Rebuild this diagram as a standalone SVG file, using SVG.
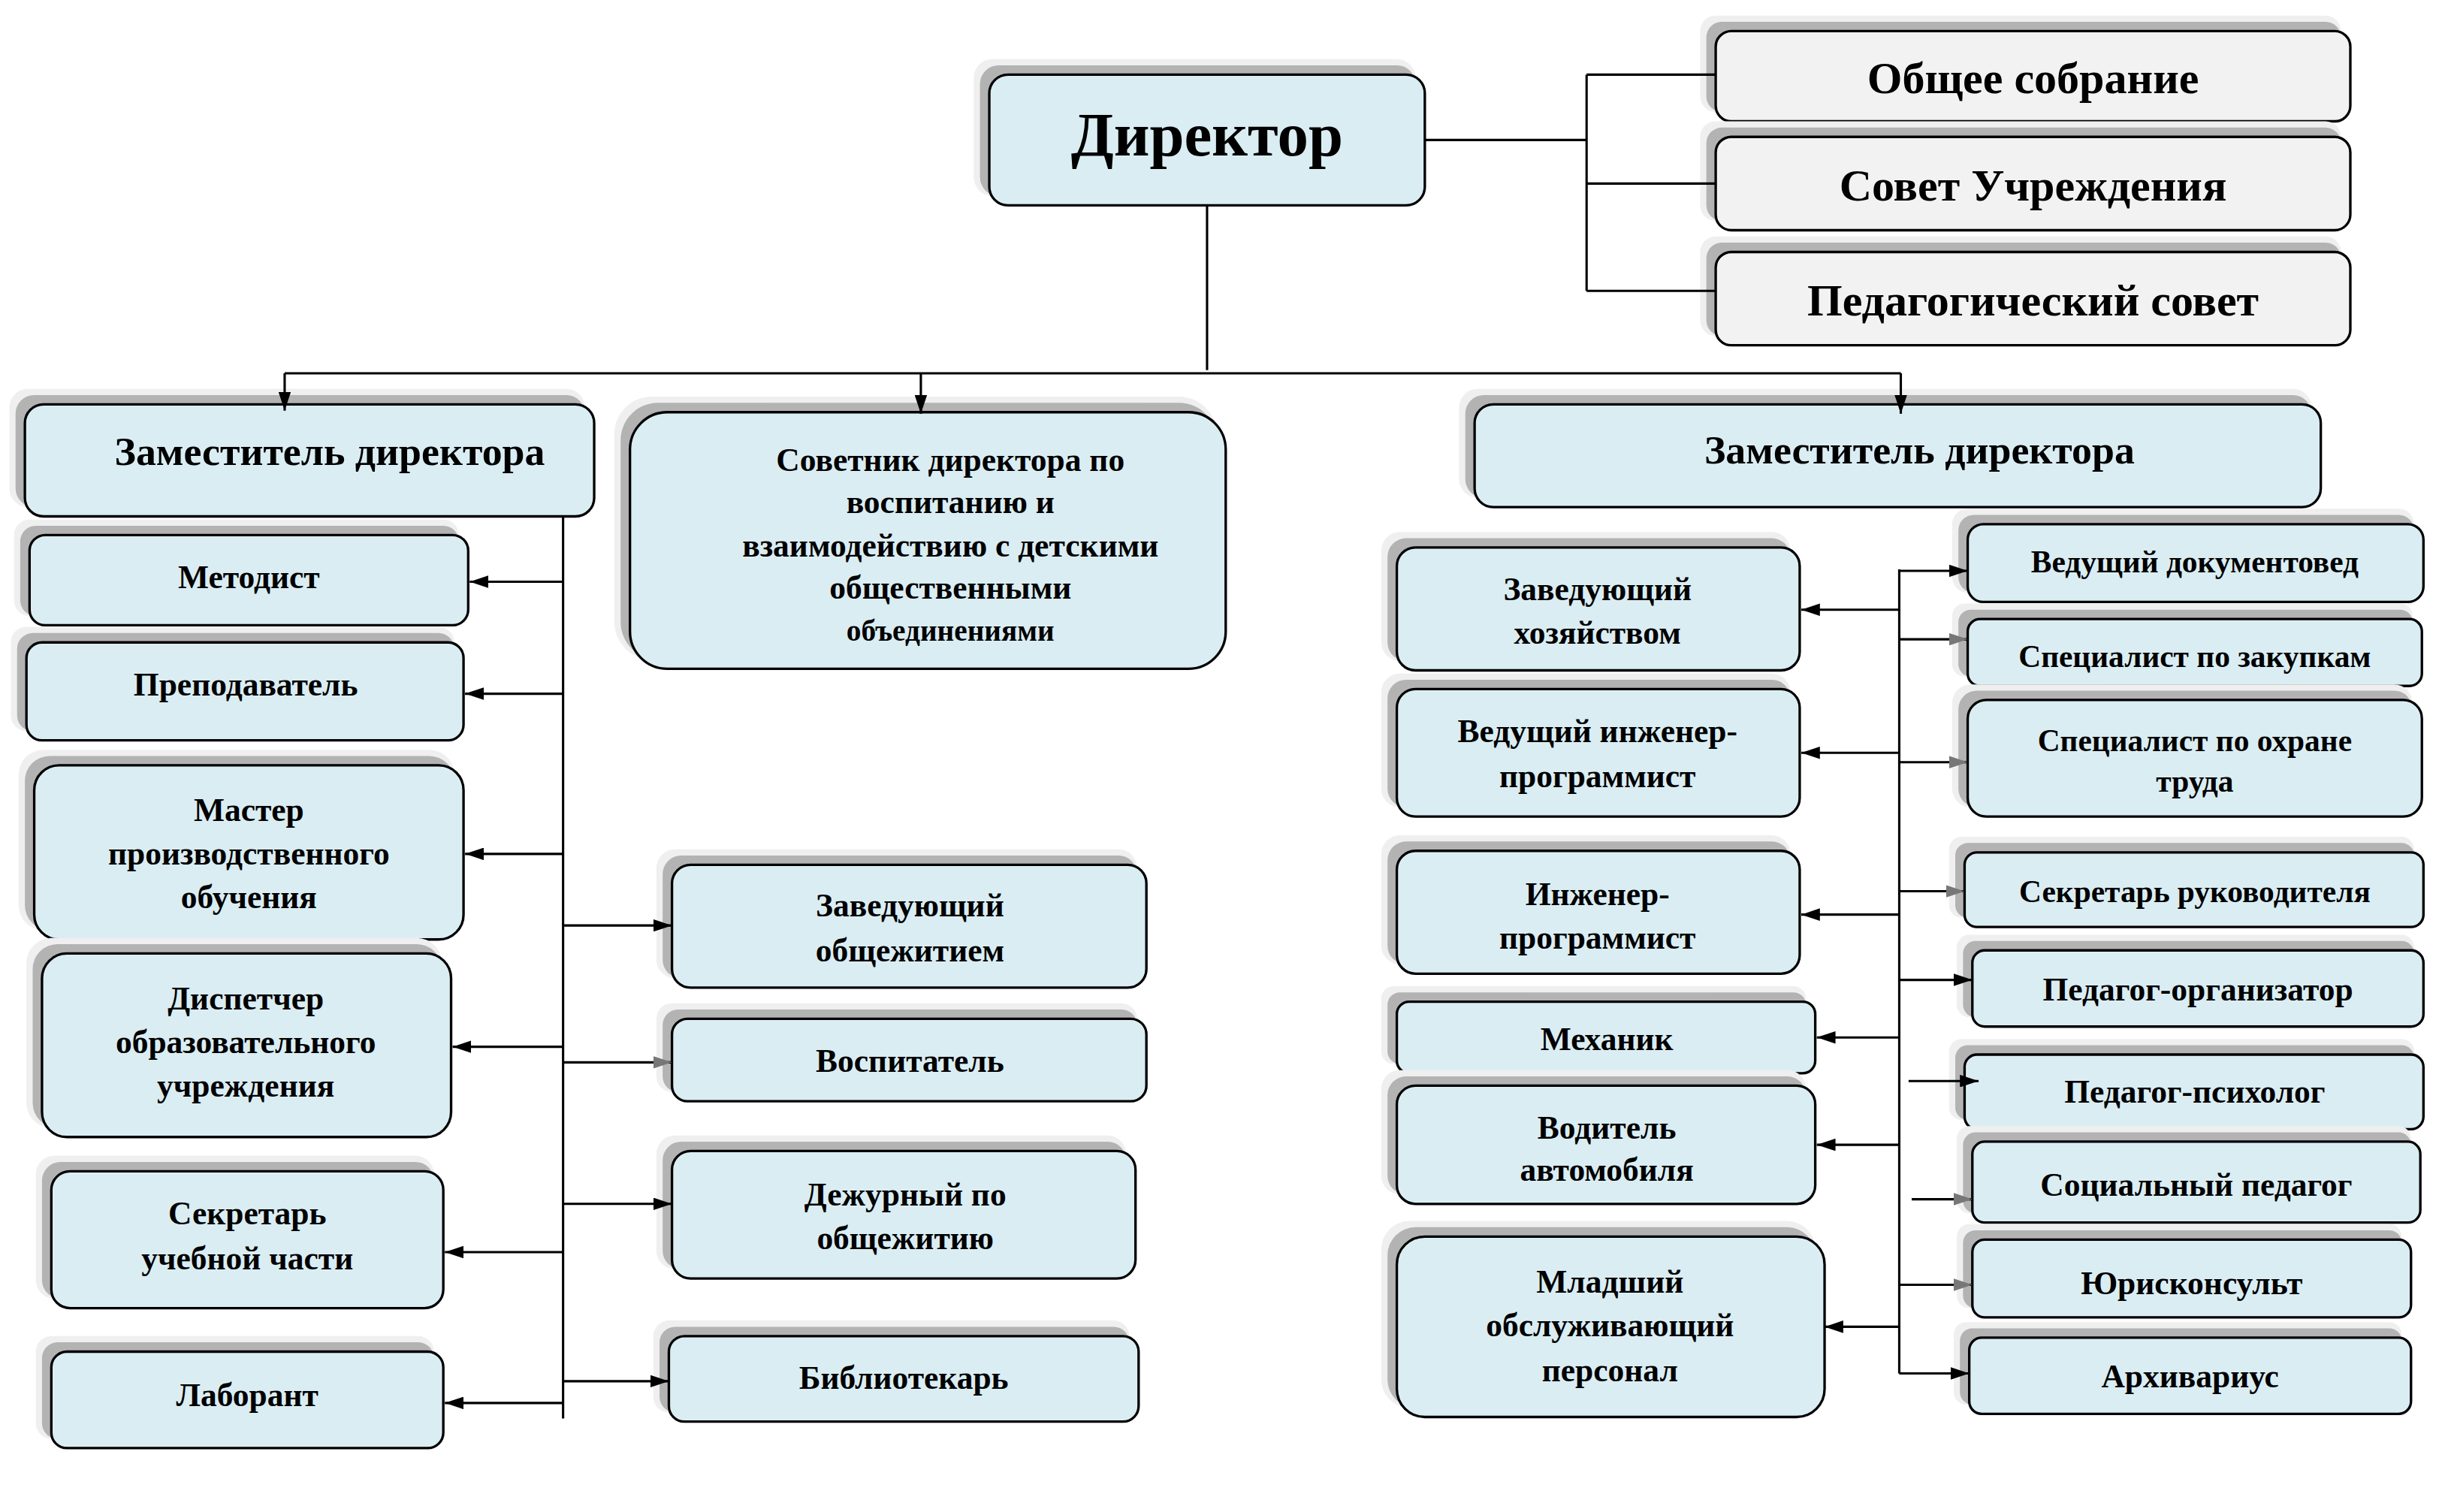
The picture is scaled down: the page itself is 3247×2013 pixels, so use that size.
<svg xmlns="http://www.w3.org/2000/svg" width="3247" height="2013" viewBox="0 0 3247 2013">
<defs>
<style>
.b{fill:#daedf3;stroke:#000;stroke-width:1.6}
.g{fill:#f2f2f2;stroke:#000;stroke-width:1.6}
.s1{fill:#efefef}
.s2{fill:#b3b3b3}
text{font-family:"Liberation Serif","Times New Roman",serif;font-weight:bold;text-anchor:middle;fill:#000}
.t{font-size:21px}
.l{stroke:#000;stroke-width:1.5;fill:none}
</style>
<marker id="a" viewBox="0 0 12 8" refX="12" refY="4" markerWidth="12" markerHeight="8" markerUnits="userSpaceOnUse" orient="auto"><path d="M0,0L12,4L0,8Z" fill="#000"/></marker>
<marker id="ag" viewBox="0 0 12 8" refX="12" refY="4" markerWidth="12" markerHeight="8" markerUnits="userSpaceOnUse" orient="auto"><path d="M0,0L12,4L0,8Z" fill="#777"/></marker>
</defs>
<rect width="3247" height="2013" fill="#fff"/>
<g transform="scale(2.0708)">
<g id="nodes">
<g id="director"><rect class="s1" x="626" y="38" width="284" height="88" rx="12"/><rect class="s2" x="630" y="42" width="280" height="84" rx="12"/><rect class="b" x="636" y="48" width="280" height="84" rx="12"/><text x="776" y="100" style="font-size:40px">Директор</text></g>
<g id="obshee"><rect class="s1" x="1093" y="10" width="412" height="62" rx="10"/><rect class="s2" x="1097" y="14" width="408" height="58" rx="10"/><rect class="g" x="1103" y="20" width="408" height="58" rx="10"/><text x="1307" y="60" style="font-size:29px">Общее собрание</text></g>
<g id="sovet"><rect class="s1" x="1093" y="78" width="412" height="64" rx="10"/><rect class="s2" x="1097" y="82" width="408" height="60" rx="10"/><rect class="g" x="1103" y="88" width="408" height="60" rx="10"/><text x="1307" y="129" style="font-size:29px">Совет Учреждения</text></g>
<g id="pedsovet"><rect class="s1" x="1093" y="152" width="412" height="64" rx="10"/><rect class="s2" x="1097" y="156" width="408" height="60" rx="10"/><rect class="g" x="1103" y="162" width="408" height="60" rx="10"/><text x="1307" y="203" style="font-size:29px">Педагогический совет</text></g>

<g id="zam1"><rect class="s1" x="6" y="250" width="370" height="76" rx="12"/><rect class="s2" x="10" y="254" width="366" height="72" rx="12"/><rect class="b" x="16" y="260" width="366" height="72" rx="12"/><text x="212" y="299" style="font-size:26px">Заместитель директора</text></g>
<g id="sovetnik"><rect class="s1" x="395" y="255" width="387" height="169" rx="24"/><rect class="s2" x="399" y="259" width="383" height="165" rx="24"/><rect class="b" x="405" y="265" width="383" height="165" rx="24"/><text class="t" x="611" y="303">Советник директора по</text><text class="t" x="611" y="330">воспитанию и</text><text class="t" x="611" y="358">взаимодействию с детскими</text><text class="t" x="611" y="385">общественными</text><text x="611" y="412" style="font-size:19px">объединениями</text></g>
<g id="zam2"><rect class="s1" x="938" y="250" width="548" height="70" rx="12"/><rect class="s2" x="942" y="254" width="544" height="66" rx="12"/><rect class="b" x="948" y="260" width="544" height="66" rx="12"/><text x="1234" y="298" style="font-size:26px">Заместитель директора</text></g>

<g id="metodist"><rect class="s1" x="9" y="334" width="286" height="62" rx="10"/><rect class="s2" x="13" y="338" width="282" height="58" rx="10"/><rect class="b" x="19" y="344" width="282" height="58" rx="10"/><text class="t" x="160" y="378">Методист</text></g>
<g id="prepod"><rect class="s1" x="7" y="403" width="285" height="67" rx="10"/><rect class="s2" x="11" y="407" width="281" height="63" rx="10"/><rect class="b" x="17" y="413" width="281" height="63" rx="10"/><text class="t" x="158" y="447">Преподаватель</text></g>
<g id="master"><rect class="s1" x="12" y="482" width="280" height="116" rx="16"/><rect class="s2" x="16" y="486" width="276" height="112" rx="16"/><rect class="b" x="22" y="492" width="276" height="112" rx="16"/><text class="t" x="160" y="528">Мастер</text><text class="t" x="160" y="556">производственного</text><text class="t" x="160" y="584">обучения</text></g>
<g id="dispetcher"><rect class="s1" x="17" y="603" width="267" height="122" rx="16"/><rect class="s2" x="21" y="607" width="263" height="118" rx="16"/><rect class="b" x="27" y="613" width="263" height="118" rx="16"/><text class="t" x="158" y="649">Диспетчер</text><text class="t" x="158" y="677">образовательного</text><text class="t" x="158" y="705">учреждения</text></g>
<g id="sekr-uch"><rect class="s1" x="23" y="743" width="256" height="92" rx="12"/><rect class="s2" x="27" y="747" width="252" height="88" rx="12"/><rect class="b" x="33" y="753" width="252" height="88" rx="12"/><text class="t" x="159" y="787">Секретарь</text><text class="t" x="159" y="816">учебной части</text></g>
<g id="laborant"><rect class="s1" x="23" y="859" width="256" height="66" rx="10"/><rect class="s2" x="27" y="863" width="252" height="62" rx="10"/><rect class="b" x="33" y="869" width="252" height="62" rx="10"/><text class="t" x="159" y="904">Лаборант</text></g>

<g id="zav-obsh"><rect class="s1" x="422" y="546" width="309" height="83" rx="12"/><rect class="s2" x="426" y="550" width="305" height="79" rx="12"/><rect class="b" x="432" y="556" width="305" height="79" rx="12"/><text class="t" x="585" y="589">Заведующий</text><text class="t" x="585" y="618">общежитием</text></g>
<g id="vospit"><rect class="s1" x="422" y="645" width="309" height="57" rx="10"/><rect class="s2" x="426" y="649" width="305" height="53" rx="10"/><rect class="b" x="432" y="655" width="305" height="53" rx="10"/><text class="t" x="585" y="689">Воспитатель</text></g>
<g id="dezhur"><rect class="s1" x="422" y="730" width="302" height="86" rx="12"/><rect class="s2" x="426" y="734" width="298" height="82" rx="12"/><rect class="b" x="432" y="740" width="298" height="82" rx="12"/><text class="t" x="582" y="775">Дежурный по</text><text class="t" x="582" y="803">общежитию</text></g>
<g id="bibl"><rect class="s1" x="420" y="849" width="306" height="59" rx="10"/><rect class="s2" x="424" y="853" width="302" height="55" rx="10"/><rect class="b" x="430" y="859" width="302" height="55" rx="10"/><text class="t" x="581" y="893">Библиотекарь</text></g>

<g id="zavhoz"><rect class="s1" x="888" y="342" width="263" height="83" rx="12"/><rect class="s2" x="892" y="346" width="259" height="79" rx="12"/><rect class="b" x="898" y="352" width="259" height="79" rx="12"/><text class="t" x="1027" y="386">Заведующий</text><text class="t" x="1027" y="414">хозяйством</text></g>
<g id="ved-ing"><rect class="s1" x="888" y="433" width="263" height="86" rx="12"/><rect class="s2" x="892" y="437" width="259" height="82" rx="12"/><rect class="b" x="898" y="443" width="259" height="82" rx="12"/><text class="t" x="1027" y="477">Ведущий инженер-</text><text class="t" x="1027" y="506">программист</text></g>
<g id="ing"><rect class="s1" x="888" y="537" width="263" height="83" rx="12"/><rect class="s2" x="892" y="541" width="259" height="79" rx="12"/><rect class="b" x="898" y="547" width="259" height="79" rx="12"/><text class="t" x="1027" y="582">Инженер-</text><text class="t" x="1027" y="610">программист</text></g>
<g id="mehanik"><rect class="s1" x="888" y="634" width="273" height="50" rx="8"/><rect class="s2" x="892" y="638" width="269" height="46" rx="8"/><rect class="b" x="898" y="644" width="269" height="46" rx="8"/><text class="t" x="1033" y="675">Механик</text></g>
<g id="voditel"><rect class="s1" x="888" y="688" width="273" height="80" rx="12"/><rect class="s2" x="892" y="692" width="269" height="76" rx="12"/><rect class="b" x="898" y="698" width="269" height="76" rx="12"/><text class="t" x="1033" y="732">Водитель</text><text class="t" x="1033" y="759">автомобиля</text></g>
<g id="mladshiy"><rect class="s1" x="888" y="785" width="279" height="120" rx="18"/><rect class="s2" x="892" y="789" width="275" height="116" rx="18"/><rect class="b" x="898" y="795" width="275" height="116" rx="18"/><text class="t" x="1035" y="831">Младший</text><text class="t" x="1035" y="859">обслуживающий</text><text class="t" x="1035" y="888">персонал</text></g>

<g id="dokument"><rect class="s1" x="1255" y="327" width="297" height="54" rx="10"/><rect class="s2" x="1259" y="331" width="293" height="50" rx="10"/><rect class="b" x="1265" y="337" width="293" height="50" rx="10"/><text x="1411" y="368" style="font-size:20px">Ведущий документовед</text></g>
<g id="zakupki"><rect class="s1" x="1255" y="388" width="296" height="47" rx="8"/><rect class="s2" x="1259" y="392" width="292" height="43" rx="8"/><rect class="b" x="1265" y="398" width="292" height="43" rx="8"/><text x="1411" y="429" style="font-size:20px">Специалист по закупкам</text></g>
<g id="ohrana"><rect class="s1" x="1255" y="440" width="296" height="79" rx="12"/><rect class="s2" x="1259" y="444" width="292" height="75" rx="12"/><rect class="b" x="1265" y="450" width="292" height="75" rx="12"/><text x="1411" y="483" style="font-size:20px">Специалист по охране</text><text x="1411" y="509" style="font-size:20px">труда</text></g>
<g id="sekr-ruk"><rect class="s1" x="1253" y="538" width="299" height="52" rx="8"/><rect class="s2" x="1257" y="542" width="295" height="48" rx="8"/><rect class="b" x="1263" y="548" width="295" height="48" rx="8"/><text x="1411" y="580" style="font-size:20px">Секретарь руководителя</text></g>
<g id="ped-org"><rect class="s1" x="1258" y="601" width="294" height="53" rx="8"/><rect class="s2" x="1262" y="605" width="290" height="49" rx="8"/><rect class="b" x="1268" y="611" width="290" height="49" rx="8"/><text class="t" x="1413" y="643">Педагог-организатор</text></g>
<g id="ped-psih"><rect class="s1" x="1253" y="668" width="299" height="52" rx="8"/><rect class="s2" x="1257" y="672" width="295" height="48" rx="8"/><rect class="b" x="1263" y="678" width="295" height="48" rx="8"/><text class="t" x="1411" y="709">Педагог-психолог</text></g>
<g id="soc-ped"><rect class="s1" x="1258" y="724" width="292" height="56" rx="8"/><rect class="s2" x="1262" y="728" width="288" height="52" rx="8"/><rect class="b" x="1268" y="734" width="288" height="52" rx="8"/><text class="t" x="1412" y="769">Социальный педагог</text></g>
<g id="yurist"><rect class="s1" x="1258" y="787" width="286" height="54" rx="8"/><rect class="s2" x="1262" y="791" width="282" height="50" rx="8"/><rect class="b" x="1268" y="797" width="282" height="50" rx="8"/><text class="t" x="1409" y="832">Юрисконсульт</text></g>
<g id="arhiv"><rect class="s1" x="1256" y="850" width="288" height="53" rx="8"/><rect class="s2" x="1260" y="854" width="284" height="49" rx="8"/><rect class="b" x="1266" y="860" width="284" height="49" rx="8"/><text class="t" x="1408" y="892">Архивариус</text></g>
</g>
<g id="connectors">
<path class="l" d="M916,90H1020M1020,48V187M1020,48H1103M1020,118H1103M1020,187H1103"/>
<path class="l" d="M776,132V238M183,240H1222"/>
<path class="l" d="M183,240V264" marker-end="url(#a)"/>
<path class="l" d="M592,240V266" marker-end="url(#a)"/>
<path class="l" d="M1222,240V266" marker-end="url(#a)"/>
<path class="l" d="M362,332V912"/>
<path class="l" d="M362,374H302" marker-end="url(#a)"/>
<path class="l" d="M362,446H299" marker-end="url(#a)"/>
<path class="l" d="M362,549H299" marker-end="url(#a)"/>
<path class="l" d="M362,673H291" marker-end="url(#a)"/>
<path class="l" d="M362,805H286" marker-end="url(#a)"/>
<path class="l" d="M362,902H286" marker-end="url(#a)"/>
<path class="l" d="M362,595H432" marker-end="url(#a)"/>
<path class="l" d="M362,683H432" marker-end="url(#ag)"/>
<path class="l" d="M362,774H432" marker-end="url(#a)"/>
<path class="l" d="M362,888H430" marker-end="url(#a)"/>
<path class="l" d="M1221,366V883"/>
<path class="l" d="M1221,392H1158" marker-end="url(#a)"/>
<path class="l" d="M1221,484H1158" marker-end="url(#a)"/>
<path class="l" d="M1221,588H1158" marker-end="url(#a)"/>
<path class="l" d="M1221,667H1168" marker-end="url(#a)"/>
<path class="l" d="M1221,736H1168" marker-end="url(#a)"/>
<path class="l" d="M1221,853H1173" marker-end="url(#a)"/>
<path class="l" d="M1221,367H1265" marker-end="url(#a)"/>
<path class="l" d="M1221,411H1265" marker-end="url(#ag)"/>
<path class="l" d="M1221,490H1265" marker-end="url(#ag)"/>
<path class="l" d="M1221,573H1263" marker-end="url(#ag)"/>
<path class="l" d="M1221,630H1268" marker-end="url(#a)"/>
<path class="l" d="M1227,695H1272" marker-end="url(#a)"/>
<path class="l" d="M1229,771H1268" marker-end="url(#ag)"/>
<path class="l" d="M1221,826H1268" marker-end="url(#ag)"/>
<path class="l" d="M1221,883H1266" marker-end="url(#a)"/>
</g>
</g>
</svg>
